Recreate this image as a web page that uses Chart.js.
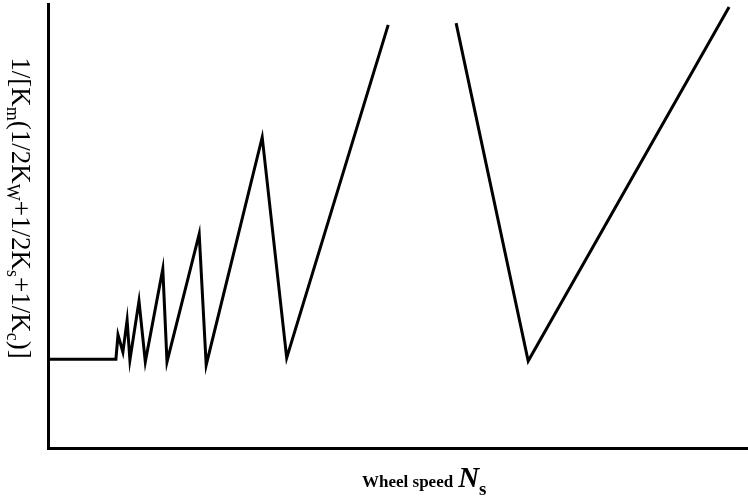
<!DOCTYPE html>
<html>
<head>
<meta charset="utf-8">
<script src="https://cdn.jsdelivr.net/npm/chart.js@4/dist/chart.umd.min.js"></script>
<style>
  html, body { margin: 0; padding: 0; background: #fff; }
  #wrap { width: 748px; height: 499px; position: relative; }
</style>
</head>
<body>
<div id="wrap"><canvas id="stiffnessChart"></canvas></div>
<script>
// wheel speed (arbitrary units, 0-100) and the compliance term (0-100)
// null marks the break in the curve near the top
const wheelSpeed = [0, 9.7, 10.0, 10.7, 11.3, 11.7, 13.0, 13.9, 16.4, 17.0, 21.6, 22.6, 30.6, 34.1, 48.6, 53.0, 58.3, 68.6, 97.3];
const stiffness = [20, 20, 25.5, 21.6, 28.8, 19.8, 33.1, 19.4, 40.3, 19.4, 48.2, 18.7, 70.0, 20.3, 95.3, null, 95.7, 19.6, 99.3];

// axis titles as [text, isSubscript] pieces
const yTitle = [["1/[K", false], ["m", true], ["(1/2K", false], ["W", true], ["+1/2K", false], ["s", true], ["+1/K", false], ["c", true], [")]", false]];
const xTitleWords = "Wheel speed";
const xTitleSymbol = "N";
const xTitleSub = "s";

const points = wheelSpeed.map((x, i) => ({ x: x, y: stiffness[i] }));

// draws the axis titles, which need subscripts
const titlePlugin = {
    id: "titles",
    afterDraw(chart) {
        const c = chart.ctx;
        c.save();
        c.fillStyle = "#000";
        c.textBaseline = "alphabetic";
        c.textAlign = "left";

        // y title, rotated clockwise
        const mainFont = "27px 'Liberation Serif'";
        const subFont = "18px 'Liberation Serif'";
        let total = 0;
        yTitle.forEach(([t, sub]) => {
            c.font = sub ? subFont : mainFont;
            total += c.measureText(t).width;
        });
        c.translate(12, 208);
        c.rotate(Math.PI / 2);
        let pos = -total / 2;
        yTitle.forEach(([t, sub]) => {
            c.font = sub ? subFont : mainFont;
            c.fillText(t, pos, sub ? 5 : 0);
            pos += c.measureText(t).width;
        });
        c.setTransform(1, 0, 0, 1, 0, 0);

        // x title
        c.font = "bold 17px 'Liberation Serif'";
        c.fillText(xTitleWords, 362, 487);
        const w1 = c.measureText(xTitleWords).width;
        c.font = "italic bold 29px 'Liberation Serif'";
        c.fillText(xTitleSymbol, 362 + w1 + 5, 487);
        const w2 = c.measureText(xTitleSymbol).width;
        c.font = "bold 19px 'Liberation Serif'";
        c.fillText(xTitleSub, 362 + w1 + 5 + w2, 495);
        c.restore();
    },
};

new Chart(document.getElementById("stiffnessChart").getContext("2d"), {
    type: "scatter",
    data: {
        datasets: [
            {
                data: points,
                showLine: true,
                spanGaps: false,
                borderColor: "#000",
                borderWidth: 3,
                pointRadius: 0,
                tension: 0,
            },
        ],
    },
    options: {
        responsive: true,
        maintainAspectRatio: false,
        animation: false,
        layout: {
            padding: { left: 48, top: 4, right: 0, bottom: 51 },
        },
        plugins: {
            legend: { display: false },
            tooltip: { enabled: false },
        },
        scales: {
            x: {
                min: 0,
                max: 100,
                ticks: { display: false },
                grid: { display: false },
                border: { display: true, color: "#000", width: 3 },
                afterFit(scale) { scale.height = 0; },
            },
            y: {
                min: 0,
                max: 100,
                ticks: { display: false },
                grid: { display: false },
                border: { display: true, color: "#000", width: 3 },
                afterFit(scale) { scale.width = 0; },
            },
        },
    },
    plugins: [titlePlugin],
});
</script>
</body>
</html>
